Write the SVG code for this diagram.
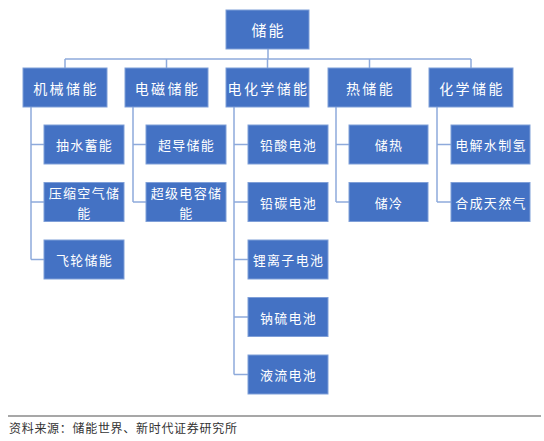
<svg xmlns="http://www.w3.org/2000/svg" width="544" height="441" viewBox="0 0 544 441">
<style>
.box{fill:#4472c4;stroke:#7f9fd8;stroke-width:1}
.t{font-family:"Noto Sans CJK SC","Noto Sans",sans-serif;fill:#ffffff;text-anchor:middle;dominant-baseline:central}
.t0{font-size:15px;letter-spacing:2px}
.t1{font-size:14px;letter-spacing:2.4px}
.t2{font-size:13px;letter-spacing:1.3px}
.conn{fill:none;stroke:#8eaadb;stroke-width:1.5}
</style>
<rect width="544" height="441" fill="#ffffff"/>
<g id="connectors" class="conn">
<path d="M268 49V59M65 59H471M65 59V68M166.5 59V68M267.5 59V68M369.5 59V68M471 59V68"/>
<path d="M31 107V259.5M31 144.5H44M31 202H44M31 259.5H44"/>
<path d="M133 107V202M133 144.5H146M133 202H146"/>
<path d="M234 107V374.5M234 144.5H248M234 202H248M234 259.5H248M234 317H248M234 374.5H248"/>
<path d="M336 107V202M336 144.5H349M336 202H349"/>
<path d="M437 107V202M437 144.5H451M437 202H451"/>
</g>
<g id="root"><rect class="box" x="226" y="10" width="83" height="39"/><text class="t t0" x="268.5" y="29.5">储能</text></g>
<g id="mech"><rect class="box" x="23" y="68" width="84" height="39"/><text class="t t1" x="66" y="87.5">机械储能</text></g>
<g id="em"><rect class="box" x="125" y="68" width="83" height="39"/><text class="t t1" x="167.5" y="87.5">电磁储能</text></g>
<g id="echem"><rect class="box" x="226" y="68" width="83" height="39"/><text class="t t1" x="268.5" y="87.5">电化学储能</text></g>
<g id="heat"><rect class="box" x="328" y="68" width="83" height="39"/><text class="t t1" x="370.5" y="87.5">热储能</text></g>
<g id="chem"><rect class="box" x="429" y="68" width="84" height="39"/><text class="t t1" x="472" y="87.5">化学储能</text></g>
<g id="pumped"><rect class="box" x="44" y="125" width="80" height="39"/><text class="t t2" x="84.5" y="144.5">抽水蓄能</text></g>
<g id="caes"><rect class="box" x="44" y="182.5" width="80" height="39"/><text class="t t2" x="84.5" y="192.5">压缩空气储<tspan x="84.5" dy="19">能</tspan></text></g>
<g id="flywheel"><rect class="box" x="44" y="240" width="80" height="39"/><text class="t t2" x="84.5" y="259.5">飞轮储能</text></g>
<g id="smes"><rect class="box" x="146" y="125" width="80" height="39"/><text class="t t2" x="186.5" y="144.5">超导储能</text></g>
<g id="supercap"><rect class="box" x="146" y="182.5" width="80" height="39"/><text class="t t2" x="186.5" y="192.5">超级电容储<tspan x="186.5" dy="19">能</tspan></text></g>
<g id="leadacid"><rect class="box" x="248" y="125" width="80" height="39"/><text class="t t2" x="288.5" y="144.5">铅酸电池</text></g>
<g id="leadcarbon"><rect class="box" x="248" y="182.5" width="80" height="39"/><text class="t t2" x="288.5" y="202">铅碳电池</text></g>
<g id="liion"><rect class="box" x="248" y="240" width="80" height="39"/><text class="t t2" x="288.5" y="259.5">锂离子电池</text></g>
<g id="nas"><rect class="box" x="248" y="297.5" width="80" height="39"/><text class="t t2" x="288.5" y="317">钠硫电池</text></g>
<g id="flow"><rect class="box" x="248" y="355" width="80" height="39"/><text class="t t2" x="288.5" y="374.5">液流电池</text></g>
<g id="heatstore"><rect class="box" x="349" y="125" width="79" height="39"/><text class="t t2" x="389" y="144.5">储热</text></g>
<g id="coldstore"><rect class="box" x="349" y="182.5" width="79" height="39"/><text class="t t2" x="389" y="202">储冷</text></g>
<g id="h2"><rect class="box" x="451" y="125" width="79" height="39"/><text class="t t2" x="491" y="144.5">电解水制氢</text></g>
<g id="sng"><rect class="box" x="451" y="182.5" width="79" height="39"/><text class="t t2" x="491" y="202">合成天然气</text></g>
<line x1="8" y1="416" x2="541" y2="416" stroke="#8a8a8a" stroke-width="1.3"/>
<text x="9" y="427.5" font-family="&quot;Noto Sans CJK SC&quot;,sans-serif" font-size="12" letter-spacing="0.7" fill="#333333" dominant-baseline="central">资料来源：储能世界、新时代证券研究所</text>
</svg>
